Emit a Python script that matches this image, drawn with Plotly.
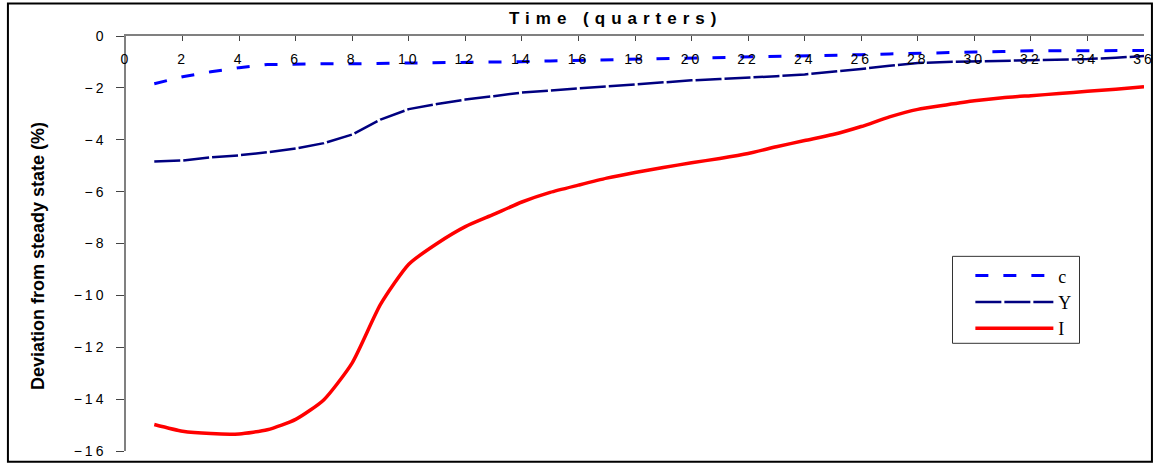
import plotly.graph_objects as go

quarters = list(range(1, 37))
c_vals = [-1.84, -1.57, -1.38, -1.22, -1.10, -1.08, -1.07, -1.07, -1.06, -1.05,
          -1.04, -1.03, -1.01, -0.99, -0.96, -0.94, -0.92, -0.89, -0.87, -0.84,
          -0.82, -0.80, -0.78, -0.77, -0.75, -0.72, -0.69, -0.66, -0.64, -0.62,
          -0.60, -0.57, -0.57, -0.57, -0.56, -0.56]
y_vals = [-4.84, -4.80, -4.68, -4.60, -4.48, -4.34, -4.13, -3.80, -3.22, -2.82,
          -2.62, -2.45, -2.32, -2.18, -2.10, -2.02, -1.94, -1.86, -1.78, -1.71,
          -1.66, -1.61, -1.55, -1.48, -1.38, -1.27, -1.15, -1.04, -1.00, -0.98,
          -0.96, -0.94, -0.91, -0.89, -0.84, -0.77]
i_vals = [-14.98, -15.24, -15.33, -15.34, -15.18, -14.78, -14.02, -12.60, -10.35, -8.80,
          -8.00, -7.35, -6.88, -6.40, -6.03, -5.75, -5.48, -5.26, -5.07, -4.89,
          -4.72, -4.53, -4.27, -4.03, -3.80, -3.49, -3.12, -2.83, -2.66, -2.50,
          -2.38, -2.30, -2.22, -2.13, -2.05, -1.96]
x_ticks = list(range(0, 37, 2))
y_ticks = list(range(-16, 1, 2))

W, H = 1163, 470
L, R, T, B = 126, W - 1152, 36, H - 456
pw, ph = W - L - R, H - T - B

def px(xp):
    return (xp - L) / pw

def py(yp):
    return (H - B - yp) / ph

fig = go.Figure()
fig.add_trace(go.Scatter(x=quarters, y=c_vals, name="c", mode="lines", legendgroup="c",
                         line=dict(color="#0000FF", width=3, dash="13px,15px")))
fig.add_trace(go.Scatter(x=quarters, y=y_vals, name="Y", mode="lines", legendgroup="Y",
                         line=dict(color="#000080", width=2.5, dash="26px,3px")))
fig.add_trace(go.Scatter(x=quarters, y=i_vals, name="I", mode="lines", legendgroup="I",
                         line=dict(color="#FF0000", width=3.5, shape="spline", smoothing=0.6)))

fig.update_layout(
    width=W, height=H,
    margin=dict(l=L, r=R, t=T, b=B, pad=0),
    paper_bgcolor="white", plot_bgcolor="white",
    font=dict(family="Liberation Sans, Arial, sans-serif", color="black"),
    showlegend=True,
    legend=dict(x=px(977), y=py(260), xanchor="left", yanchor="top",
                borderwidth=0, bgcolor="rgba(0,0,0,0)",
                font=dict(family="Liberation Serif, Times New Roman, serif", size=18),
                itemwidth=78, tracegroupgap=13, traceorder="normal"),
    xaxis=dict(range=[0, 36], side="top", tickmode="array", tickvals=x_ticks,
               ticks="inside", ticklen=5, tickcolor="#444444",
               ticklabelposition="inside", ticklabelstandoff=13,
               ticklabeloverflow="allow",
               showline=True, linecolor="#808080", linewidth=1.5,
               showgrid=False, zeroline=False,
               tickfont=dict(size=14, color="black")),
    yaxis=dict(range=[-16, 0], tickmode="array", tickvals=y_ticks,
               ticks="outside", ticklen=8, tickcolor="#444444",
               ticklabelstandoff=7, ticklabeloverflow="allow",
               showline=True, linecolor="#808080", linewidth=1.5,
               showgrid=False, zeroline=False,
               tickfont=dict(size=14, color="black")),
    annotations=[
        dict(text="<b>Time (quarters)</b>", xref="paper", yref="paper",
             x=px(619), y=py(18), xanchor="center", yanchor="middle",
             showarrow=False, font=dict(size=17, color="black")),
        dict(text="<b>Deviation from steady state (%)</b>", xref="paper", yref="paper",
             x=px(38), y=py(259), xanchor="center", yanchor="middle", textangle=-90,
             showarrow=False, font=dict(size=18, color="black")),
    ],
    shapes=[
        dict(type="rect", xref="paper", yref="paper",
             x0=px(7), x1=px(1160), y0=py(467), y1=py(3),
             line=dict(color="black", width=2), layer="below"),
        dict(type="rect", xref="paper", yref="paper",
             x0=px(959), x1=px(1087), y0=py(347), y1=py(259),
             line=dict(color="#333333", width=1), fillcolor="white", layer="above"),
    ],
)

post = """
document.body.style.margin = '0';
document.body.style.padding = '0';
var gd = document.getElementById('{plot_id}');
gd.querySelectorAll('.xtick text, .ytick text').forEach(function(t){ t.style.letterSpacing = '3px'; });
gd.querySelectorAll('.annotation-text').forEach(function(t){
  if (t.textContent.indexOf('Time') === 0) { t.style.letterSpacing = '6px'; }
});
"""
fig.write_html("out.html", post_script=post, config={"displayModeBar": False})
